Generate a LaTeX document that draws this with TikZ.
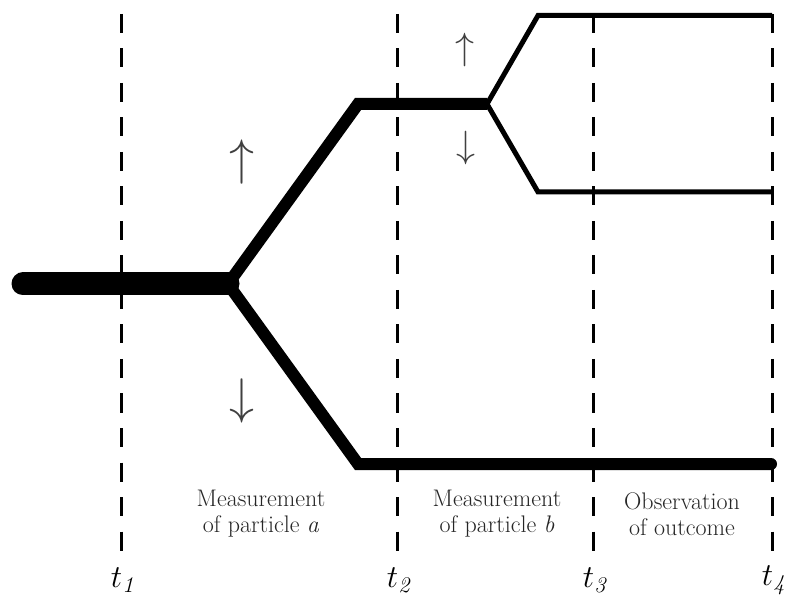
\RequirePackage{fix-cm}
\documentclass[tikz,border=0pt]{standalone}
\usetikzlibrary{arrows.meta}

\begin{document}
\begin{tikzpicture}[x=1pt, y=-1pt,
timeline/.style={line width=3pt, dash pattern=on 19pt off 15.5pt},
stem/.style={line width=23pt, line cap=round},
branch/.style={line width=12pt},
twig/.style={line width=5pt},
spin/.style={inner sep=0pt, text=black!75},
phase/.style={align=center, inner sep=0pt, text=black!85, font=\fontsize{24}{26}\selectfont},
tick/.style={inner sep=0pt, font=\fontsize{32}{32}\selectfont}]
\useasboundingbox (0,0) rectangle (787,601);
% time axes
\foreach \x/\i in {121/1,397/2,593/3,772/4}{
  \coordinate (top\i) at (\x,14);
  \coordinate (bot\i) at (\x,556);
  \draw[timeline] (top\i) -- (bot\i);
  \node[tick] (t\i) at (\x+3,580) {$t_{\mathit{\i}}$};
}
% branching paths
\coordinate (start) at (23,284);
\coordinate (fork) at (228,284);
\coordinate (upA) at (358,104);
\coordinate (forkB) at (487,104);
\coordinate (downA) at (358,464);
\coordinate (endA) at (771,464);
\coordinate (upB) at (538,15.5);
\coordinate (endUp) at (772,15.5);
\coordinate (downB) at (538,192);
\coordinate (endDown) at (772,192);
\draw[twig] (forkB) -- (upB) -- (endUp);
\draw[twig] (forkB) -- (downB) -- (endDown);
\draw[branch] (fork) -- (upA) -- (forkB);
\draw[branch, line cap=round] (fork) -- (downA) -- (endA);
\draw[stem] (start) -- (fork);
% spin outcomes
\node[spin, font=\fontsize{50}{50}\selectfont] (upa) at (242,162) {$\uparrow$};
\node[spin, font=\fontsize{50}{50}\selectfont] (downa) at (242,401) {$\downarrow$};
\node[spin, font=\fontsize{38}{38}\selectfont] (upb) at (465,50) {$\uparrow$};
\node[spin, font=\fontsize{38}{38}\selectfont] (downb) at (466,148) {$\downarrow$};
% stages
\node[phase] (measa) at (261,514) {Measurement\\of particle \emph{a}};
\node[phase] (measb) at (497,514) {Measurement\\of particle \emph{b}};
\node[phase] (obs) at (682,514) {Observation\\of outcome};
\end{tikzpicture}
\end{document}
